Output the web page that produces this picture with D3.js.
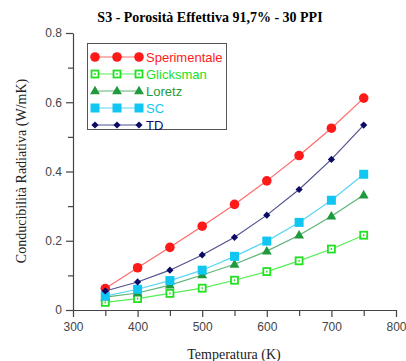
<!DOCTYPE html>
<html>
<head>
<meta charset="utf-8">
<script src="https://cdn.jsdelivr.net/npm/d3@7"></script>
<style>
  body { margin: 0; background: #fff; }
</style>
</head>
<body>
<div id="chart"></div>
<script>
// dati
const temperature = [350, 400, 450, 500, 550, 600, 650, 700, 750];
const sperimentale = [0.062, 0.122, 0.181, 0.242, 0.305, 0.373, 0.446, 0.525, 0.612];
const glicksman = [0.022, 0.033, 0.048, 0.063, 0.086, 0.111, 0.142, 0.176, 0.216];
const loretz = [0.037, 0.049, 0.072, 0.101, 0.132, 0.170, 0.216, 0.271, 0.332];
const sc = [0.040, 0.060, 0.085, 0.115, 0.155, 0.199, 0.253, 0.317, 0.392];
const td = [0.055, 0.081, 0.115, 0.159, 0.210, 0.274, 0.348, 0.435, 0.534];
const xTicks = [300, 400, 500, 600, 700, 800];
const yTicks = [0, 0.2, 0.4, 0.6, 0.8];

const series = [
    { name: "Sperimentale", values: sperimentale, color: "#ff1a1a", line: "#ff6b6b", shape: "circle" },
    { name: "Glicksman", values: glicksman, color: "#22e022", line: "#55ee55", shape: "hollowSquare" },
    { name: "Loretz", values: loretz, color: "#1f9a3c", line: "#5fb377", shape: "triangle" },
    { name: "SC", values: sc, color: "#12c6f2", line: "#5ad6f5", shape: "square" },
    { name: "TD", values: td, color: "#0b0b66", line: "#505090", shape: "diamond" }
];

const width = 406, height = 361;
const margin = { top: 33, right: 10, bottom: 51, left: 73 };

const svg = d3.select("#chart").append("svg")
    .attr("width", width)
    .attr("height", height);

const x = d3.scaleLinear().domain([300, 800]).range([margin.left, 396]);
const y = d3.scaleLinear().domain([0, 0.8]).range([height - margin.bottom, margin.top]);

// titolo
svg.append("text")
    .attr("x", 210)
    .attr("y", 22)
    .attr("text-anchor", "middle")
    .attr("font-family", "Liberation Serif, Times New Roman, serif")
    .attr("font-weight", "bold")
    .attr("font-size", "14px")
    .text("S3 - Porosità Effettiva 91,7% - 30 PPI");

// asse x
svg.append("g")
    .attr("transform", `translate(0,${y(0)})`)
    .call(d3.axisBottom(x).tickValues(xTicks).tickFormat(d3.format("d")).tickSize(7).tickPadding(5).tickSizeOuter(0));
svg.append("g")
    .attr("transform", `translate(0,${y(0)})`)
    .call(d3.axisBottom(x).tickValues(d3.range(350, 800, 100)).tickFormat("").tickSize(6).tickSizeOuter(0))
    .call(g => g.select(".domain").remove());

// asse y
svg.append("g")
    .attr("transform", `translate(${x(300)},0)`)
    .call(d3.axisLeft(y).tickValues(yTicks).tickFormat(d => d === 0 ? "0" : d3.format(".1f")(d)).tickSize(7).tickPadding(4).tickSizeOuter(0));
svg.append("g")
    .attr("transform", `translate(${x(300)},0)`)
    .call(d3.axisLeft(y).tickValues([0.1, 0.3, 0.5, 0.7]).tickFormat("").tickSize(5).tickSizeOuter(0))
    .call(g => g.select(".domain").remove());

svg.selectAll(".domain, .tick line").attr("stroke", "#444").attr("stroke-width", 1.2);
svg.selectAll(".tick text")
    .attr("fill", "#444")
    .attr("font-family", "Liberation Sans, Arial, sans-serif")
    .attr("font-size", "12px");

// etichette assi
svg.append("text")
    .attr("x", 234)
    .attr("y", 359)
    .attr("text-anchor", "middle")
    .attr("fill", "#222")
    .attr("font-family", "Liberation Serif, Times New Roman, serif")
    .attr("font-size", "14px")
    .text("Temperatura (K)");

svg.append("text")
    .attr("transform", "translate(26,171) rotate(-90)")
    .attr("text-anchor", "middle")
    .attr("fill", "#222")
    .attr("font-family", "Liberation Serif, Times New Roman, serif")
    .attr("font-size", "14px")
    .text("Conducibilità Radiativa (W/mK)");

function drawMarker(g, shape, color, cx, cy) {
    if (shape === "circle") {
        g.append("circle").attr("cx", cx).attr("cy", cy).attr("r", 4.8).attr("fill", color);
    } else if (shape === "square") {
        g.append("rect").attr("x", cx - 4.5).attr("y", cy - 4.5).attr("width", 9).attr("height", 9).attr("fill", color);
    } else if (shape === "hollowSquare") {
        g.append("rect").attr("x", cx - 3.5).attr("y", cy - 3.5).attr("width", 7).attr("height", 7)
            .attr("fill", "#fff").attr("stroke", color).attr("stroke-width", 1.8);
        g.append("rect").attr("x", cx - 0.7).attr("y", cy - 1).attr("width", 1.4).attr("height", 2).attr("fill", color);
    } else if (shape === "triangle") {
        g.append("path").attr("d", d3.symbol(d3.symbolTriangle, 42)()).attr("transform", `translate(${cx},${cy + 0.5})`).attr("fill", color);
    } else if (shape === "diamond") {
        g.append("path").attr("d", d3.symbol(d3.symbolSquare, 26)()).attr("transform", `translate(${cx},${cy}) rotate(45)`).attr("fill", color);
    }
}

// linee e marcatori
const line = d3.line()
    .x((d, i) => x(temperature[i]))
    .y(d => y(d));

series.forEach(s => {
    svg.append("path")
        .datum(s.values)
        .attr("fill", "none")
        .attr("stroke", s.line)
        .attr("stroke-width", 1.2)
        .attr("d", line);
    const g = svg.append("g");
    s.values.forEach((v, i) => drawMarker(g, s.shape, s.color, x(temperature[i]), y(v)));
});

// legenda
const legend = svg.append("g");
legend.append("rect")
    .attr("x", 87.5).attr("y", 43.5)
    .attr("width", 139).attr("height", 86)
    .attr("fill", "#fff")
    .attr("stroke", "#555")
    .attr("stroke-width", 1);

series.forEach((s, i) => {
    const ly = 57 + i * 17;
    legend.append("line")
        .attr("x1", 95).attr("x2", 139)
        .attr("y1", ly).attr("y2", ly)
        .attr("stroke", s.line)
        .attr("stroke-width", 1.2);
    [95, 117, 139].forEach(mx => drawMarker(legend, s.shape, s.color, mx, ly));
    legend.append("text")
        .attr("x", 146)
        .attr("y", ly + 4.5)
        .attr("fill", s.color)
        .attr("font-family", "Liberation Sans, Arial, sans-serif")
        .attr("font-size", "13px")
        .text(s.name);
});
</script>
</body>
</html>
